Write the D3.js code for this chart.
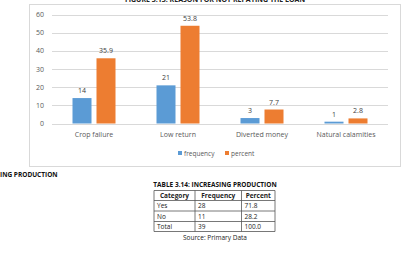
<!DOCTYPE html>
<html>
<head>
<meta charset="utf-8">
<script src="https://cdn.jsdelivr.net/npm/d3@7"></script>
<style>
  body { margin: 0; background: #fff; }
  svg { display: block; font-family: "Open Sans", "Liberation Sans", sans-serif; }
</style>
</head>
<body>
<script>
// chart values
const categories = ["Crop failure", "Low return", "Diverted money", "Natural calamities"];
const frequency = [14, 21, 3, 1];
const percent = [35.9, 53.8, 7.7, 2.8];
const yTicks = [0, 10, 20, 30, 40, 50, 60];
const seriesNames = ["frequency", "percent"];
const seriesColors = ["#5B9BD5", "#ED7D31"];

// table values
const tableHeader = ["Category", "Frequency", "Percent"];
const tableCategory = ["Yes", "No", "Total"];
const tableFrequency = ["28", "11", "39"];
const tablePercent = ["71.8", "28.2", "100.0"];

const width = 412, height = 264;
const svg = d3.select("body").append("svg")
    .attr("width", width)
    .attr("height", height);

// chart frame
svg.append("rect")
    .attr("x", 29.5).attr("y", 4.5)
    .attr("width", 371).attr("height", 162)
    .attr("fill", "#fff")
    .attr("stroke", "#d9d9d9");

// cut-off figure title
svg.append("text")
    .attr("x", 215).attr("y", 2)
    .attr("text-anchor", "middle")
    .style("font-size", "7px")
    .style("font-weight", "bold")
    .attr("fill", "#222")
    .text("FIGURE 3.13: REASON FOR NOT REPAYING THE LOAN");

const x0 = d3.scaleBand().domain(categories).range([52, 388]);
const y = d3.scaleLinear().domain([0, 60]).range([123.5, 14.5]);

// gridlines and y labels
svg.append("g").selectAll("line")
    .data(yTicks)
    .join("line")
    .attr("x1", 52).attr("x2", 388)
    .attr("y1", d => Math.round(y(d)) + 0.5)
    .attr("y2", d => Math.round(y(d)) + 0.5)
    .attr("stroke", "#d9d9d9");

svg.append("g").selectAll("text")
    .data(yTicks)
    .join("text")
    .attr("x", 44)
    .attr("y", d => y(d) + 2.5)
    .attr("text-anchor", "end")
    .style("font-size", "7px")
    .attr("fill", "#595959")
    .text(d => d);

// bars
const barW = 19, gap = 5;
const series = [frequency, percent];
series.forEach((vals, s) => {
    const offset = s === 0 ? -(gap / 2 + barW) : gap / 2;
    svg.append("g").selectAll("rect")
        .data(categories)
        .join("rect")
        .attr("x", d => x0(d) + x0.bandwidth() / 2 + offset)
        .attr("y", (d, i) => y(vals[i]))
        .attr("width", barW)
        .attr("height", (d, i) => y(0) - y(vals[i]))
        .attr("fill", seriesColors[s]);

    svg.append("g").selectAll("text")
        .data(categories)
        .join("text")
        .attr("x", d => x0(d) + x0.bandwidth() / 2 + offset + barW / 2)
        .attr("y", (d, i) => y(vals[i]) - 5)
        .attr("text-anchor", "middle")
        .style("font-size", "7px")
        .attr("fill", "#404040")
        .text((d, i) => vals[i]);
});

// category labels
svg.append("g").selectAll("text")
    .data(categories)
    .join("text")
    .attr("x", d => x0(d) + x0.bandwidth() / 2)
    .attr("y", 136.5)
    .attr("text-anchor", "middle")
    .style("font-size", "7px")
    .attr("fill", "#595959")
    .text(d => d);

// legend
const legendX = [178, 225];
seriesNames.forEach((name, i) => {
    svg.append("rect")
        .attr("x", legendX[i]).attr("y", 151)
        .attr("width", 4).attr("height", 4)
        .attr("fill", seriesColors[i]);
    svg.append("text")
        .attr("x", legendX[i] + 6).attr("y", 155.5)
        .style("font-size", "6.5px")
        .attr("fill", "#595959")
        .text(name);
});

// text below the chart
svg.append("text")
    .attr("x", 0).attr("y", 177)
    .style("font-size", "6.5px")
    .style("font-weight", "bold")
    .attr("fill", "#111")
    .text("ING PRODUCTION");

svg.append("text")
    .attr("x", 215).attr("y", 187)
    .attr("text-anchor", "middle")
    .style("font-size", "6.5px")
    .style("font-weight", "bold")
    .attr("fill", "#111")
    .text("TABLE 3.14: INCREASING PRODUCTION");

// table
const colX = [154, 195, 241.5, 275];
const rowY = [190.5, 200.5, 211, 221.5, 231.5];
const rows = [tableHeader].concat(tableCategory.map((c, i) => [c, tableFrequency[i], tablePercent[i]]));

const tbl = svg.append("g");
tbl.selectAll("line.h")
    .data(rowY)
    .join("line")
    .attr("x1", colX[0]).attr("x2", colX[3])
    .attr("y1", d => d).attr("y2", d => d)
    .attr("stroke", "#555").attr("stroke-width", 0.8);
tbl.selectAll("line.v")
    .data(colX)
    .join("line")
    .attr("x1", d => d).attr("x2", d => d)
    .attr("y1", rowY[0]).attr("y2", rowY[4])
    .attr("stroke", "#555").attr("stroke-width", 0.8);

rows.forEach((row, r) => {
    row.forEach((cell, c) => {
        tbl.append("text")
            .attr("x", r === 0 ? (colX[c] + colX[c + 1]) / 2 : colX[c] + 3)
            .attr("y", (rowY[r] + rowY[r + 1]) / 2 + 2.5)
            .attr("text-anchor", r === 0 ? "middle" : "start")
            .style("font-size", "6.5px")
            .style("font-weight", r === 0 ? "bold" : "normal")
            .attr("fill", "#222")
            .text(cell);
    });
});

svg.append("text")
    .attr("x", 215).attr("y", 239.5)
    .attr("text-anchor", "middle")
    .style("font-size", "6.5px")
    .attr("fill", "#222")
    .text("Source: Primary Data");
</script>
</body>
</html>
